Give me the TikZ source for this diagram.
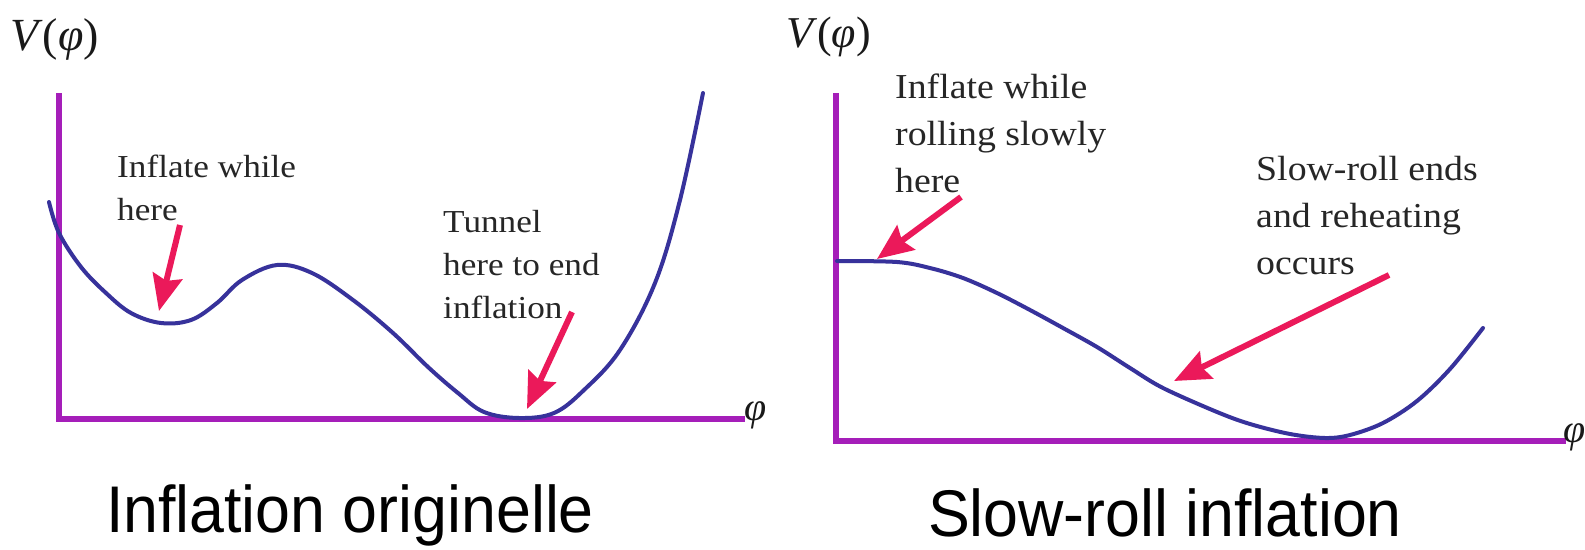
\documentclass[tikz,border=0pt]{standalone}
\usepackage{fontspec}
\setmainfont{Liberation Serif}
\newfontfamily\capfont{Liberation Sans}
\usetikzlibrary{arrows.meta}
\definecolor{axiscol}{RGB}{165,30,185}
\definecolor{curvecol}{RGB}{55,50,155}
\definecolor{arrowcol}{RGB}{235,25,90}
\begin{document}
\begin{tikzpicture}[x=1pt,y=-1pt,
  axisline/.style={draw=axiscol,line width=5.5pt},
  potcurve/.style={draw=curvecol,line width=4pt,line cap=round},
  redarrow/.style={draw=arrowcol,line width=6pt,-{Stealth[length=36pt,width=30pt,inset=5pt]}},
  notel/.style={anchor=north west,inner sep=0pt,align=left,font=\fontsize{32}{43}\selectfont,xscale=1.1,text=black!85},
  noter/.style={anchor=north west,inner sep=0pt,align=left,font=\fontsize{35}{47}\selectfont,xscale=1.08,text=black!85},
  vlabel/.style={anchor=base west,inner sep=0pt,font=\fontsize{46}{50}\selectfont,text=black!90},
  philabel/.style={anchor=base west,inner sep=0pt,font=\fontsize{40}{44}\selectfont\itshape,text=black!90},
  caption/.style={anchor=base,inner sep=0pt,font=\capfont\fontsize{66}{70}\selectfont,xscale=0.95}]
\useasboundingbox[fill=white] (0,0) rectangle (1585,549);

% ---------- left panel ----------
\coordinate (LO) at (59,419);
\coordinate (LT) at (59,93);
\coordinate (LR) at (745,419);
\draw[axisline] (LT) -- (LO) -- (LR);
\draw[potcurve] plot[smooth,tension=0.6] coordinates {(49,202) (59,233) (81,267) (106,293) (131,313) (161,323) (191,320) (217,303) (242,280) (277,265) (312,273) (353,300) (393,333) (428,367) (458,393) (484,412) (519,418) (554,413) (584,390) (620,350) (655,283) (680,200) (703,93)};
\node[vlabel] (LV) at (10,50) {\textit{V}(\textit{φ})};
\begin{scope}
\clip (0,0) rectangle (767,449);
\node[philabel] (LPhi) at (744,420) {φ};
\end{scope}
\node[notel] (LN1) at (117,155) {Inflate while\\here};
\node[notel] (LN2) at (443,210) {Tunnel\\here to end\\inflation};
\coordinate (LA1s) at (180,225);
\coordinate (LA1e) at (159,311);
\coordinate (LA2s) at (572,312);
\coordinate (LA2e) at (527,409);
\draw[redarrow] (LA1s) -- (LA1e);
\draw[redarrow] (LA2s) -- (LA2e);
\node[caption] (LC) at (350,532) {Inflation originelle};

% ---------- right panel ----------
\coordinate (RO) at (836,441);
\coordinate (RT) at (836,93);
\coordinate (RR) at (1566,441);
\draw[axisline] (RT) -- (RO) -- (RR);
\draw[potcurve] plot[smooth,tension=0.55] coordinates {(837,261) (897,262) (930,268) (963,278) (997,293) (1030,310) (1063,328) (1097,347) (1130,368) (1163,388) (1217,412) (1250,424) (1290,434) (1325,438) (1350,435) (1383,423) (1417,401) (1450,369) (1483,328)};
\node[vlabel,font=\fontsize{44}{48}\selectfont] (RV) at (786,47) {\textit{V}(\textit{φ})};
\node[philabel] (RPhi) at (1563,442) {φ};
\node[noter] (RN1) at (895,74) {Inflate while\\rolling slowly\\here};
\node[noter] (RN2) at (1256,156) {Slow-roll ends\\and reheating\\occurs};
\coordinate (RA1s) at (961,197);
\coordinate (RA1e) at (877,259);
\coordinate (RA2s) at (1389,275);
\coordinate (RA2e) at (1174,381);
\draw[redarrow] (RA1s) -- (RA1e);
\draw[redarrow] (RA2s) -- (RA2e);
\node[caption] (RC) at (1165,536) {Slow-roll inflation};
\end{tikzpicture}
\end{document}
